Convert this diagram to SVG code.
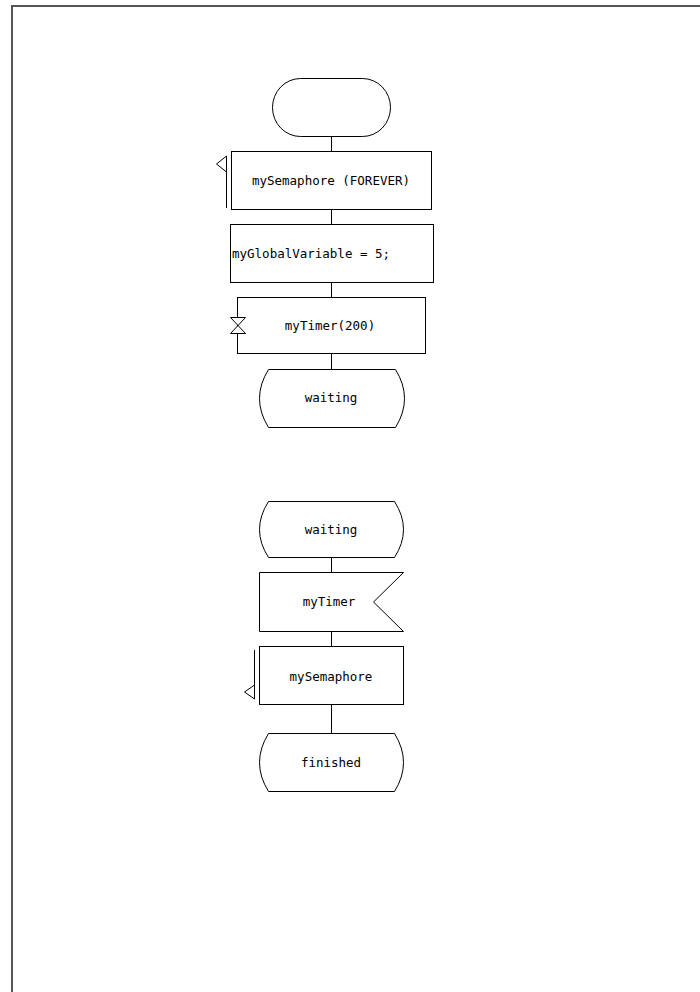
<svg xmlns="http://www.w3.org/2000/svg" width="700" height="992" viewBox="0 0 700 992">
<style>
.s{fill:#fff;stroke:#000;stroke-width:1}
.l{fill:none;stroke:#000;stroke-width:1}
.t{font-family:"DejaVu Sans Mono","Liberation Mono",monospace;font-size:12.5px;fill:#000}
.c{text-anchor:middle}
</style>
<rect width="700" height="992" fill="#fff"/>
<g id="frame"><path d="M12,992 V6 H700" fill="none" stroke="#555" stroke-width="2"/></g>
<g id="connectors">
<path class="l" d="M331.5,137 V151 M331.5,209 V224 M331.5,283 V297 M331.5,353 V369 M331.5,557 V572 M331.5,632 V646 M331.5,704 V733"/>
</g>
<g id="start"><rect class="s" x="272.5" y="78.5" width="118" height="58" rx="28" ry="29"/></g>
<g id="sem1">
<rect class="s" x="231.5" y="151.5" width="200" height="58"/>
<path class="l" d="M226.5,156 V208 M226.5,156 L216.5,164 L226.5,172"/>
<text class="t c" x="331" y="185">mySemaphore (FOREVER)</text>
</g>
<g id="assign">
<rect class="s" x="230.5" y="224.5" width="203" height="58"/>
<text class="t" x="232" y="258">myGlobalVariable = 5;</text>
</g>
<g id="timerset">
<rect class="s" x="237.5" y="297.5" width="188" height="56"/>
<path class="s" d="M230.5,317.5 H245.5 L230.5,333.5 H245.5 Z"/>
<text class="t c" x="330" y="330">myTimer(200)</text>
</g>
<g id="state1">
<path class="s" d="M268.5,369.5 H395.5 Q413.5,398.5 395.5,427.5 H268.5 Q250.5,398.5 268.5,369.5 Z"/>
<text class="t c" x="331" y="402">waiting</text>
</g>
<g id="state2">
<path class="s" d="M268.5,501.5 H394.5 Q412.5,529.5 394.5,557.5 H268.5 Q250.5,529.5 268.5,501.5 Z"/>
<text class="t c" x="331" y="534">waiting</text>
</g>
<g id="input">
<path class="s" d="M259.5,572.5 H403.5 L373.5,602 L403.5,631.5 H259.5 Z"/>
<text class="t c" x="329" y="606">myTimer</text>
</g>
<g id="sem2">
<rect class="s" x="259.5" y="646.5" width="144" height="58"/>
<path class="l" d="M254.5,650 V699 M254.5,685 L244.5,692 L254.5,699"/>
<text class="t c" x="331" y="681">mySemaphore</text>
</g>
<g id="state3">
<path class="s" d="M268.5,733.5 H394.5 Q412.5,762.5 394.5,791.5 H268.5 Q250.5,762.5 268.5,733.5 Z"/>
<text class="t c" x="331" y="767">finished</text>
</g>
</svg>
